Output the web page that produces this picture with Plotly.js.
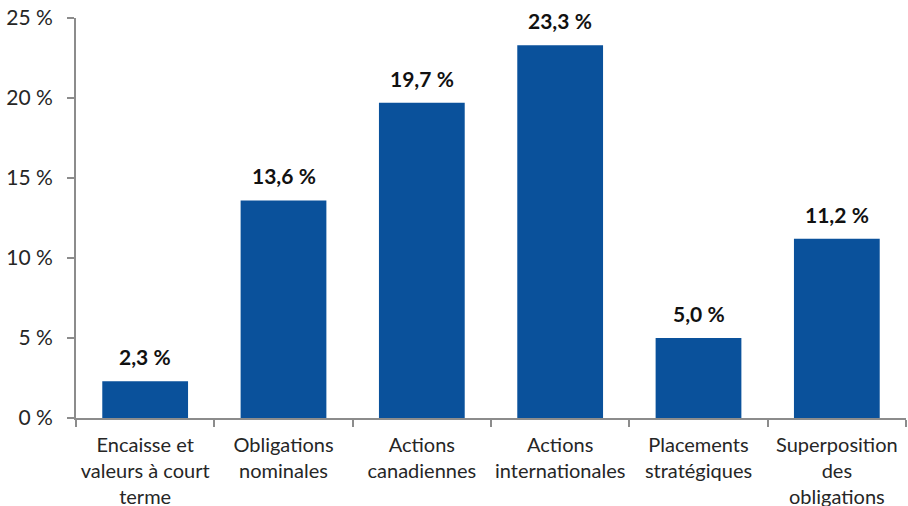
<!DOCTYPE html>
<html>
<head>
<meta charset="utf-8">
<script src="https://cdn.plot.ly/plotly-3.0.1.min.js"></script>
<style>html,body{margin:0;padding:0;background:#fff;overflow:hidden;}#chart{width:908px;height:506px;}</style>
</head>
<body>
<div id="chart"></div>
<script>
const categories = [
  "Encaisse et<br>valeurs à court<br>terme",
  "Obligations<br>nominales",
  "Actions<br>canadiennes",
  "Actions<br>internationales",
  "Placements<br>stratégiques",
  "Superposition<br>des<br>obligations"
];
const values = [2.3, 13.6, 19.7, 23.3, 5.0, 11.2];
const yTicks = [0, 5, 10, 15, 20, 25];

const fmt = v => v.toFixed(1).replace('.', ',') + '\u202F%';

const trace = {
  type: 'bar',
  x: categories,
  y: values,
  marker: {color: '#0a519b', line: {width: 0}},
  width: 0.62,
  hoverinfo: 'none'
};

const annotations = categories.map((c, i) => ({
  x: c, y: values[i], xref: 'x', yref: 'y',
  text: '<b>' + fmt(values[i]) + '</b>',
  showarrow: false, yanchor: 'bottom', yshift: 10,
  font: {family: 'Lato, sans-serif', size: 21, color: '#111'}
}));

const layout = {
  width: 908, height: 506,
  margin: {l: 76, r: 2, t: 18, b: 88},
  paper_bgcolor: '#fff', plot_bgcolor: '#fff',
  font: {family: 'Lato, sans-serif', size: 20, color: '#262626'},
  showlegend: false,
  xaxis: {
    type: 'category',
    showline: true, linecolor: '#8c8c8c', linewidth: 2,
    ticks: 'outside', tickson: 'boundaries', ticklen: 7, tickwidth: 2, tickcolor: '#8c8c8c',
    showgrid: false, zeroline: false,
    tickangle: 0,
    ticklabelstandoff: 8,
    tickfont: {family: 'Lato, sans-serif', size: 20, color: '#262626'}
  },
  yaxis: {
    range: [0, 25], tickvals: yTicks,
    ticktext: yTicks.map(v => v + '\u202F%'),
    showline: true, linecolor: '#8c8c8c', linewidth: 2,
    ticks: 'outside', ticklen: 7, tickwidth: 2, tickcolor: '#8c8c8c',
    showgrid: false, zeroline: false,
    ticklabelstandoff: 10,
    tickfont: {family: 'Lato, sans-serif', size: 21, color: '#262626'}
  },
  annotations: annotations
};

Plotly.newPlot('chart', [trace], layout, {displayModeBar: false, staticPlot: true});
</script>
</body>
</html>
